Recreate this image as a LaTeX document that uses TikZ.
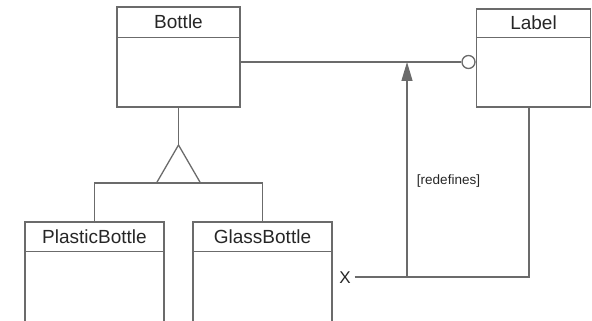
\documentclass[tikz,border=0pt]{standalone}
\usepackage{fontspec}
\setmainfont{Liberation Sans}
\usetikzlibrary{arrows.meta,positioning}
\colorlet{lineclr}{black!58}
\colorlet{textclr}{black!85}

\begin{document}
\begin{tikzpicture}[x=1pt,y=-1pt,>={Triangle[length=19pt,width=11pt]},
    line width=1.3pt,
    umlbox/.style={draw=lineclr,inner sep=0pt},
    title/.style={text=textclr,font=\fontsize{19}{22}\selectfont},
    link/.style={draw=lineclr}]
  \useasboundingbox (0,0) rectangle (592,321);
  \clip (0,0) rectangle (592,321);

  \node[umlbox,minimum width=123pt,minimum height=100pt] (bottle) at (178.5,57) {};
  \draw[link] ([yshift=-31pt]bottle.north west) -- ([yshift=-31pt]bottle.north east);
  \node[title] (bottlename) at ([yshift=-15.5pt]bottle.north) {Bottle};

  \node[umlbox,minimum width=114pt,minimum height=98pt] (label) at (533.5,58) {};
  \draw[link] ([yshift=-29pt]label.north west) -- ([yshift=-29pt]label.north east);
  \node[title] (labelname) at ([yshift=-14.5pt]label.north) {Label};

  \node[umlbox,minimum width=139pt,minimum height=118pt] (plastic) at (94.5,281) {};
  \draw[link] ([yshift=-30pt]plastic.north west) -- ([yshift=-30pt]plastic.north east);
  \node[title] (plasticname) at ([yshift=-15pt]plastic.north) {PlasticBottle};

  \node[umlbox,minimum width=139pt,minimum height=118pt] (glass) at (262.5,281) {};
  \draw[link] ([yshift=-30pt]glass.north west) -- ([yshift=-30pt]glass.north east);
  \node[title] (glassname) at ([yshift=-15pt]glass.north) {GlassBottle};

  \coordinate (gen) at (178.5,145);
  \coordinate (base) at (178.5,183);
  \draw[link] (bottle.south) -- (gen);
  \draw[link] (gen) -- ++(-22,38) -- ++(44,0) -- cycle;
  \draw[link] (plastic.north) |- (base) -| (glass.north);

  \node[circle,draw=lineclr,fill=white,minimum size=13pt,inner sep=0pt] (socket) at (468.5,62) {};
  \draw[link] (bottle.east |- socket) -- (socket);

  \node[title,font=\fontsize{17}{20}\selectfont] (xmark) at (345,278) {X};
  \coordinate (fork) at (407,277);
  \coordinate (corner) at (529,277);
  \draw[link] (xmark.east |- corner) -- (corner) -- (corner |- label.south);
  \draw[link,->,fill=lineclr] (fork) -- (fork |- socket);
  \node[text=textclr,font=\fontsize{13.5}{16}\selectfont,anchor=west] (redef) at (413,181) {[redefines]};
\end{tikzpicture}
\end{document}
